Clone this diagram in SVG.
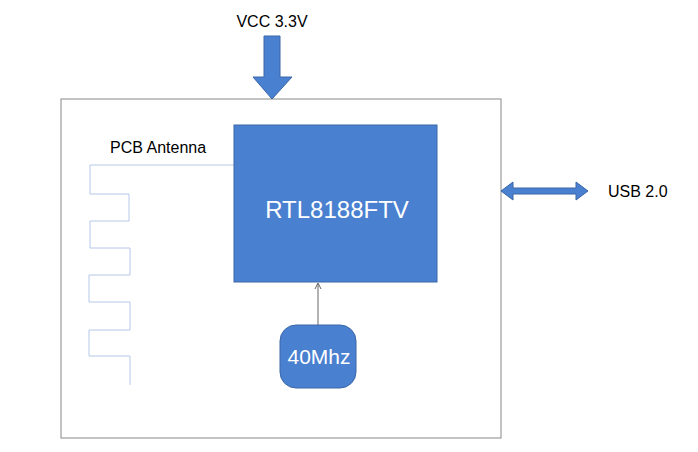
<svg xmlns="http://www.w3.org/2000/svg" width="698" height="452" viewBox="0 0 698 452">
<style>
text{font-family:"Liberation Sans",Arial,sans-serif;}
.lbl{font-size:16px;fill:#000;}
.blue{fill:#4a80d0;stroke:#3a66a8;stroke-width:1;}
</style>
<rect width="698" height="452" fill="#fff"/>
<g id="board"><rect x="61" y="99" width="440" height="339" fill="#fff" stroke="#888" stroke-width="1"/></g>
<g id="antenna">
<path d="M234,165 H90 V194 H129 V221 H90 V248 H130 V275 H89 V302 H130 V330 H89 V356 H130 V385" fill="none" stroke="#b4c8e8" stroke-width="1"/>
<text class="lbl" x="110" y="153">PCB Antenna</text>
</g>
<g id="chip"><rect class="blue" x="234" y="125" width="203" height="157"/>
<text x="337" y="218" text-anchor="middle" font-size="24" fill="#fff">RTL8188FTV</text></g>
<g id="xtal"><rect class="blue" x="280" y="325" width="76" height="63" rx="16"/>
<text x="319" y="364" text-anchor="middle" font-size="21" fill="#fff">40Mhz</text></g>
<g id="vcc"><path class="blue" d="M264,36 H280 V77 H292 L272,99 L253,77 H264 Z"/>
<text class="lbl" x="272" y="27" text-anchor="middle">VCC 3.3V</text></g>
<g id="usb"><path class="blue" d="M501,191 L513,182 V188 H576 V182 L588,191 L576,200 V194 H513 V200 Z"/>
<text class="lbl" x="608" y="197">USB 2.0</text></g>
<g id="connectors"><line x1="318" y1="325" x2="318" y2="284" stroke="#666" stroke-width="1"/>
<path d="M315,289 L318,283 L321,289" fill="none" stroke="#666" stroke-width="1"/></g>
</svg>
